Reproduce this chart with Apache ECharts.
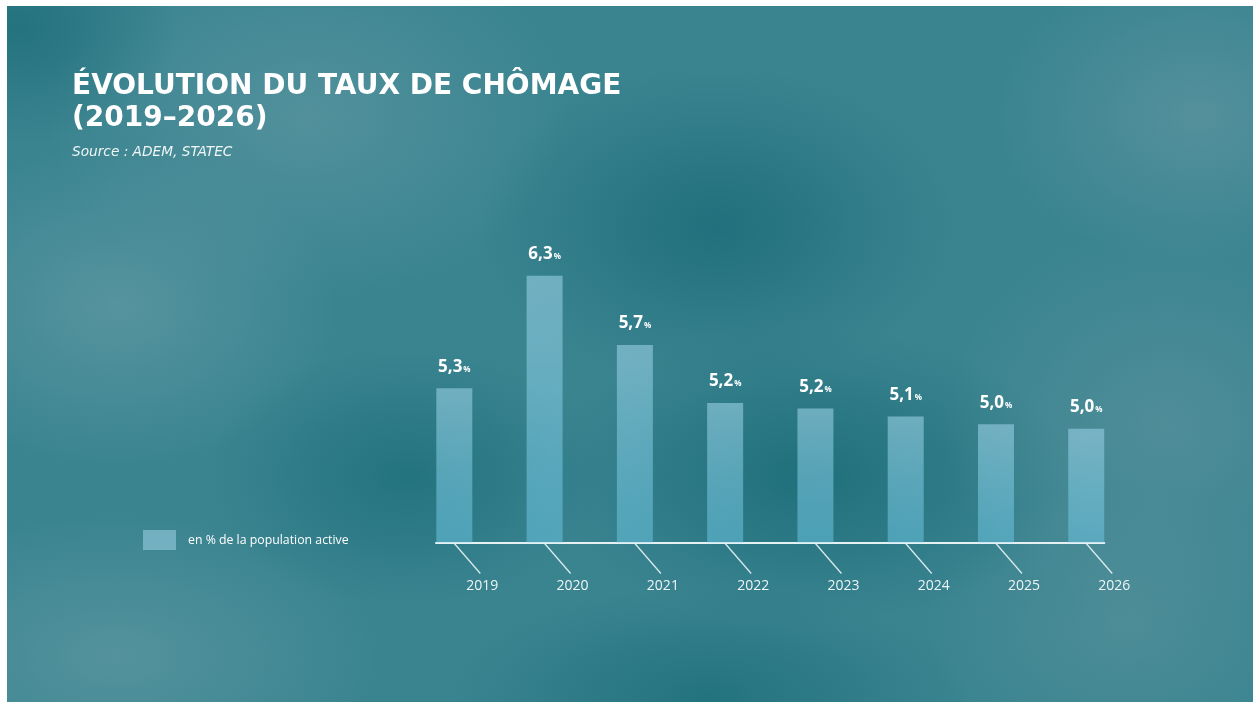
<!DOCTYPE html>
<html>
<head>
<meta charset="utf-8">
<title>Évolution du taux de chômage</title>
<script src="https://cdn.jsdelivr.net/npm/echarts@6/dist/echarts.min.js"></script>
<style>
  html, body { margin: 0; padding: 0; background: #fff; }
  /* blurred teal backdrop */
  #bg {
    position: absolute; left: 7px; top: 6px; width: 1246px; height: 696px;
    background:
      radial-gradient(ellipse 160px 120px at 10px 20px, rgba(30,110,122,0.8), rgba(30,110,122,0)),
      radial-gradient(ellipse 260px 180px at 300px 110px, rgba(110,160,170,0.45), rgba(110,160,170,0)),
      radial-gradient(ellipse 220px 160px at 110px 300px, rgba(120,168,176,0.45), rgba(120,168,176,0)),
      radial-gradient(ellipse 240px 160px at 710px 220px, rgba(25,105,118,0.75), rgba(25,105,118,0)),
      radial-gradient(ellipse 200px 150px at 1190px 110px, rgba(115,160,170,0.45), rgba(115,160,170,0)),
      radial-gradient(ellipse 220px 200px at 1160px 420px, rgba(110,155,165,0.4), rgba(110,155,165,0)),
      radial-gradient(ellipse 200px 130px at 400px 470px, rgba(25,108,120,0.7), rgba(25,108,120,0)),
      radial-gradient(ellipse 260px 150px at 800px 470px, rgba(22,105,117,0.75), rgba(22,105,117,0)),
      radial-gradient(ellipse 260px 140px at 110px 650px, rgba(115,165,172,0.45), rgba(115,165,172,0)),
      radial-gradient(ellipse 260px 110px at 700px 690px, rgba(25,108,120,0.7), rgba(25,108,120,0)),
      radial-gradient(ellipse 200px 140px at 1120px 620px, rgba(105,155,162,0.4), rgba(105,155,162,0)),
      #3a8490;
  }
  #chart { position: absolute; left: 0; top: 0; width: 1253px; height: 702px; }
</style>
</head>
<body>
<div id="bg"></div>
<div id="chart"></div>
<script>
// data
const years = ['2019', '2020', '2021', '2022', '2023', '2024', '2025', '2026'];
const rates = [5.30, 6.30, 5.685, 5.17, 5.12, 5.05, 4.98, 4.94];      // bar heights as drawn
const rateLabels = ['5,3', '6,3', '5,7', '5,2', '5,2', '5,1', '5,0', '5,0']; // printed values
const seriesName = 'en % de la population active';
const yMin = 3.93;
const yMax = 7;

const chart = echarts.init(document.getElementById('chart'));

const barData = rates.map((v, i) => [i, v]);
const tickData = years.map((y, i) => [i]);

const barColor = new echarts.graphic.LinearGradient(0, 0, 0, 1, [
    { offset: 0, color: 'rgba(150,205,225,0.62)' },
    { offset: 1, color: 'rgba(110,200,230,0.5)' }
]);

const option = {
    backgroundColor: 'transparent',
    animation: false,
    title: {
        text: 'ÉVOLUTION DU TAUX DE CHÔMAGE\n(2019–2026)',
        subtext: 'Source : ADEM, STATEC',
        left: 72,
        top: 71,
        padding: 0,
        itemGap: 9,
        textStyle: {
            fontFamily: 'DejaVu Sans',
            fontWeight: 'bold',
            fontSize: 28,
            lineHeight: 32,
            color: '#ffffff'
        },
        subtextStyle: {
            fontFamily: 'DejaVu Sans',
            fontStyle: 'italic',
            fontSize: 13.7,
            lineHeight: 16,
            color: 'rgba(255,255,255,0.92)'
        }
    },
    legend: {
        left: 143,
        top: 530,
        padding: 0,
        icon: 'rect',
        itemWidth: 33,
        itemHeight: 20,
        textStyle: {
            fontFamily: 'Open Sans',
            fontSize: 12.3,
            color: '#ffffff',
            padding: [0, 0, 0, 7]
        },
        data: [{ name: seriesName, itemStyle: { color: 'rgba(150,205,225,0.6)' } }]
    },
    grid: {
        left: 436,
        right: 148.7,
        top: 197,
        bottom: 159.5
    },
    xAxis: {
        type: 'value',
        min: -0.203,
        max: 7.2,
        axisLine: { show: true, onZero: false, lineStyle: { color: '#e6f1f3', width: 2 } },
        axisTick: { show: false },
        axisLabel: { show: false },
        splitLine: { show: false }
    },
    yAxis: {
        type: 'value',
        min: yMin,
        max: yMax,
        show: false,
        splitLine: { show: false }
    },
    series: [
        {
            name: seriesName,
            type: 'bar',
            barWidth: 36,
            data: barData,
            itemStyle: { color: barColor },
            label: {
                show: true,
                position: 'top',
                distance: 13,
                formatter: p => '{v|' + rateLabels[p.dataIndex] + '}{p|%}',
                rich: {
                    v: { fontFamily: 'Open Sans', fontWeight: 'bold', fontSize: 17, color: '#ffffff' },
                    p: { fontFamily: 'Open Sans', fontWeight: 'bold', fontSize: 8, color: '#ffffff',
                         verticalAlign: 'bottom', padding: [0, 0, 2, 1] }
                }
            }
        },
        {
            // slanted ticks and year labels under the axis
            type: 'custom',
            clip: false,
            silent: true,
            data: tickData,
            renderItem: (params, api) => {
                const p = api.coord([api.value(0), yMin]);
                return {
                    type: 'group',
                    children: [
                        {
                            type: 'line',
                            shape: { x1: p[0], y1: p[1] + 1, x2: p[0] + 26, y2: p[1] + 31 },
                            style: { stroke: 'rgba(235,245,247,0.9)', lineWidth: 1.3 }
                        },
                        {
                            type: 'text',
                            x: p[0] + 28,
                            y: p[1] + 44,
                            style: {
                                text: years[params.dataIndex],
                                fontFamily: 'Open Sans',
                                fontSize: 14,
                                fill: '#eef5f6',
                                align: 'center',
                                verticalAlign: 'middle'
                            }
                        }
                    ]
                };
            }
        }
    ]
};

chart.setOption(option);
</script>
</body>
</html>
